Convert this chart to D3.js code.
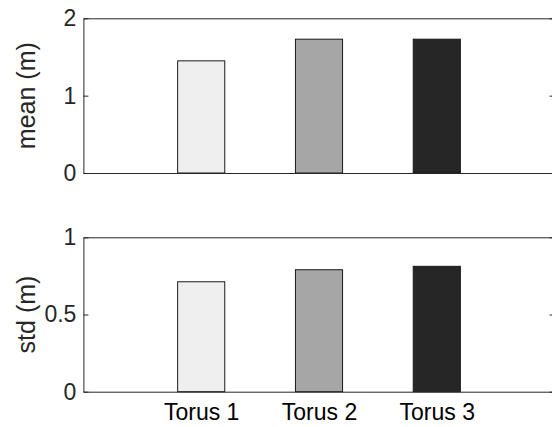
<!DOCTYPE html>
<html><head><meta charset="utf-8">
<script src="https://cdn.jsdelivr.net/npm/d3@7"></script>
<style>html,body{margin:0;padding:0;background:#fff;overflow:hidden}</style>
</head><body>
<svg id="c" width="552" height="427"></svg>
<script>
const categories = ["Torus 1", "Torus 2", "Torus 3"];
const meanValues = [1.45, 1.73, 1.73];
const stdValues = [0.712, 0.790, 0.812];
const barColors = ["#efefef", "#a6a6a6", "#262626"];
const meanTicks = [0, 1, 2];
const stdTicks = [0, 0.5, 1];

const svg = d3.select("#c");
const font = "Arial, 'Liberation Sans', Helvetica, sans-serif";
const axisColor = "#262626";
const x = d3.scaleLinear().domain([0, 4]).range([83.4, 554.6]);
const barW = 0.4;

function panel(values, ticks, yMax, top, bottom, label, showX) {
  const y = d3.scaleLinear().domain([0, yMax]).range([bottom, top]);
  const g = svg.append("g");
  g.selectAll("rect.bar").data(values).enter().append("rect")
    .attr("class", "bar")
    .attr("x", (d, i) => x(i + 1 - barW / 2))
    .attr("width", (d, i) => x(i + 1 + barW / 2) - x(i + 1 - barW / 2))
    .attr("y", d => y(d))
    .attr("height", d => y(0) - y(d))
    .attr("fill", (d, i) => barColors[i])
    .attr("stroke", "#1a1a1a").attr("stroke-width", 1);
  const la = d3.axisLeft(y).tickValues(ticks).tickSizeInner(-5).tickSizeOuter(0)
    .tickPadding(7).tickFormat(d3.format("~g"));
  const gl = g.append("g").attr("transform", `translate(${x(0)},0)`).call(la);
  gl.select(".domain").attr("stroke", axisColor);
  gl.selectAll(".tick line").attr("stroke", axisColor);
  gl.selectAll(".tick text").attr("font-family", font).attr("font-size", 23)
    .attr("fill", axisColor);
  const ra = d3.axisRight(y).tickValues(ticks).tickSizeInner(-5).tickSizeOuter(0).tickFormat("");
  const gr = g.append("g").attr("transform", `translate(${x(4)},0)`).call(ra);
  gr.select(".domain").attr("stroke", axisColor);
  gr.selectAll(".tick line").attr("stroke", axisColor);
  const ba = d3.axisBottom(x).tickValues(showX ? [1, 2, 3] : []).tickSizeInner(0).tickSizeOuter(0)
    .tickPadding(12).tickFormat((d) => categories[d - 1]);
  const gb = g.append("g").attr("transform", `translate(0,${y(0)})`).call(ba);
  gb.select(".domain").attr("stroke", axisColor);
  gb.selectAll(".tick text").attr("font-family", font).attr("font-size", 23).attr("fill", "#000");
  const ta = d3.axisTop(x).tickValues([]).tickSizeOuter(0);
  const gt = g.append("g").attr("transform", `translate(0,${y(yMax)})`).call(ta);
  gt.select(".domain").attr("stroke", axisColor);
  g.append("text")
    .attr("transform", `translate(35,${(top + bottom) / 2}) rotate(-90)`)
    .attr("text-anchor", "middle")
    .attr("font-family", font).attr("font-size", 25).attr("fill", axisColor)
    .text(label);
}

panel(meanValues, meanTicks, 2, 18.3, 173, "mean (m)", false);
panel(stdValues, stdTicks, 1, 237.3, 391.7, "std (m)", true);
</script>
</body></html>
